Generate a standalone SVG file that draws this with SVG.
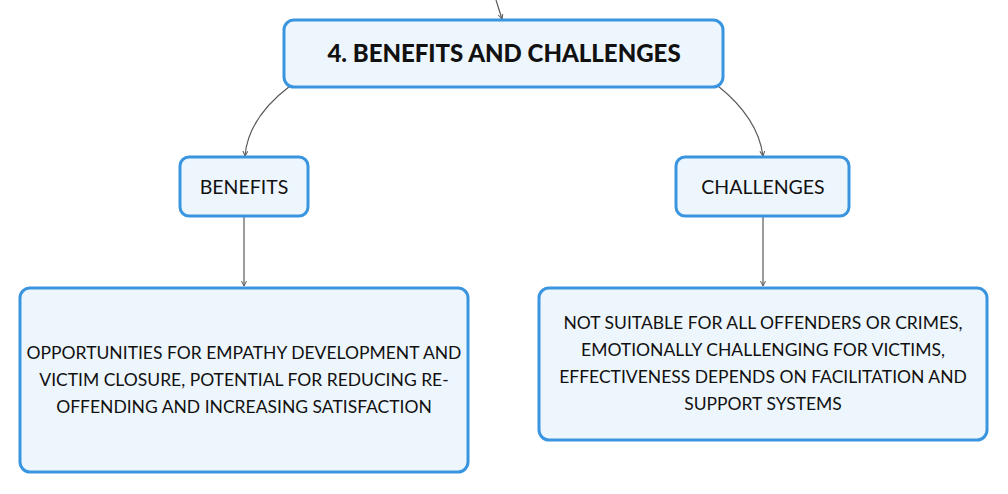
<svg xmlns="http://www.w3.org/2000/svg" width="1008" height="494" viewBox="0 0 1008 494">
<defs>
<style>
.box{fill:#eef6fd;stroke:#3a95e0;stroke-width:3}
.t{font-family:Lato,"Open Sans","Liberation Sans",sans-serif;font-size:17.5px;fill:#111;text-anchor:middle}
.l{font-family:Lato,"Open Sans","Liberation Sans",sans-serif;font-size:19.5px;fill:#111;text-anchor:middle}
.b{font-family:Lato,"Open Sans","Liberation Sans",sans-serif;font-size:24px;font-weight:900;fill:#111;text-anchor:middle}
.c{fill:none;stroke:#5a5a5a;stroke-width:1.2}
</style>
<marker id="ah" markerWidth="6" markerHeight="6" refX="5" refY="3" orient="auto" markerUnits="userSpaceOnUse">
<path d="M0,0.5 L5,3 L0,5.5" fill="none" stroke="#5a5a5a" stroke-width="1"/>
</marker>
</defs>
<rect width="1008" height="494" fill="#fff"/>
<g id="connectors">
<path class="c" d="M496,0 L502,19" marker-end="url(#ah)"/>
<path class="c" d="M290,86 Q248,118 245,156" marker-end="url(#ah)"/>
<path class="c" d="M718,86 Q758,118 763,156" marker-end="url(#ah)"/>
<path class="c" d="M244,217 L244,286" marker-end="url(#ah)"/>
<path class="c" d="M763,217 L763,286" marker-end="url(#ah)"/>
</g>
<g id="main">
<rect class="box" x="284" y="20" width="439" height="67" rx="10"/>
<text class="b" x="504" y="62">4. BENEFITS AND CHALLENGES</text>
</g>
<g id="benefits">
<rect class="box" x="180" y="157" width="128" height="59" rx="9"/>
<text class="l" x="244" y="194">BENEFITS</text>
</g>
<g id="challenges">
<rect class="box" x="676" y="157" width="173" height="59" rx="9"/>
<text class="l" x="763" y="194">CHALLENGES</text>
</g>
<g id="benefits-detail">
<rect class="box" x="20" y="288" width="448" height="184" rx="10"/>
<text class="t" x="244" y="359">OPPORTUNITIES FOR EMPATHY DEVELOPMENT AND</text>
<text class="t" x="244" y="386">VICTIM CLOSURE, POTENTIAL FOR REDUCING RE-</text>
<text class="t" x="244" y="413">OFFENDING AND INCREASING SATISFACTION</text>
</g>
<g id="challenges-detail">
<rect class="box" x="539" y="288" width="448" height="152" rx="10"/>
<text class="t" x="763" y="329">NOT SUITABLE FOR ALL OFFENDERS OR CRIMES,</text>
<text class="t" x="763" y="356">EMOTIONALLY CHALLENGING FOR VICTIMS,</text>
<text class="t" x="763" y="383">EFFECTIVENESS DEPENDS ON FACILITATION AND</text>
<text class="t" x="763" y="410">SUPPORT SYSTEMS</text>
</g>
</svg>
